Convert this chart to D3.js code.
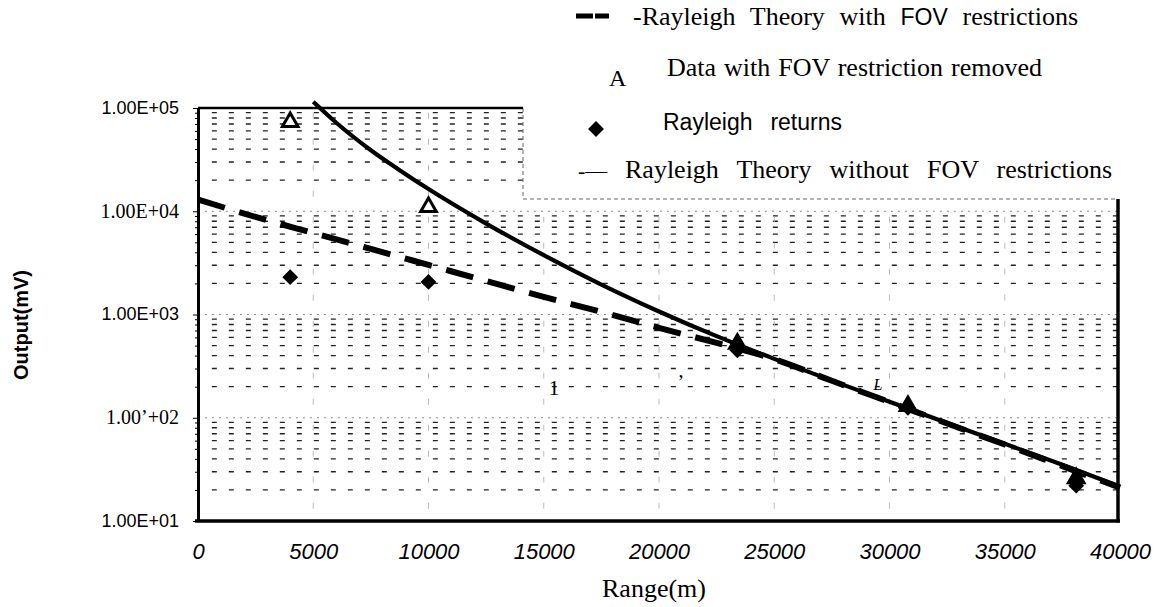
<!DOCTYPE html>
<html>
<head>
<meta charset="utf-8">
<script src="https://cdn.jsdelivr.net/npm/d3@7"></script>
<style>
  body { margin: 0; background: #fff; }
  svg { display: block; }
</style>
</head>
<body>
<svg id="chart" width="1155" height="607"></svg>
<script>
// theory without FOV restrictions (solid)
var theoryRange = [5000, 6000, 7500, 8750, 10000, 12500, 15000, 17500, 20000, 22500, 25000, 27500, 30000, 32500, 35000, 37500, 40000];
var theoryOutput = [115000, 72000, 39000, 25000, 16400, 7600, 3760, 1950, 1070, 617, 372, 229, 143, 89, 56, 35, 21.6];
// theory with FOV restrictions (dashed)
var fovRange = [0, 2500, 5000, 7500, 10000, 12500, 15000, 17500, 20000, 22500, 25000, 27500, 30000, 32500, 35000, 37500, 40000];
var fovOutput = [13000, 8800, 6160, 4320, 3020, 2110, 1480, 1060, 742, 531, 370, 228, 142, 88, 55, 34, 21];
// measured points
var removedRange = [4000, 10000, 23400, 30800, 38100];
var removedOutput = [73000, 11000, 520, 130, 26];
var returnsRange = [4000, 10000, 23400, 30800, 38100];
var returnsOutput = [2300, 2070, 450, 125, 22];

var xTicks = [0, 5000, 10000, 15000, 20000, 25000, 30000, 35000, 40000];
var yTicks = [10, 100, 1000, 10000, 100000];
var yTickLabels = ["1.00E+01", "1.00\u2019+02", "1.00E+03", "1.00E+04", "1.00E+05"];

var SANS = "'Liberation Sans', Arial, sans-serif";
var SERIF = "'Liberation Serif', 'Times New Roman', serif";

var svg = d3.select("#chart");

var x = d3.scaleLinear().domain([0, 40000]).range([198, 1120]);
var y = d3.scaleLog().domain([10, 100000]).range([521, 108]);

// minor values for gridlines
var minors = [];
for (var d = 1; d < 5; d++) {
    for (var k = 2; k < 10; k++) minors.push(k * Math.pow(10, d));
}

var grid = svg.append("g");
grid.selectAll(".minor").data(minors).enter().append("line")
    .attr("x1", x(600)).attr("x2", x(39900))
    .attr("y1", function(v) { return y(v); })
    .attr("y2", function(v) { return y(v); })
    .attr("stroke", "#222").attr("stroke-width", 1.3)
    .attr("stroke-dasharray", "5,12");
grid.selectAll(".major").data([100, 1000, 10000]).enter().append("line")
    .attr("x1", x(300)).attr("x2", x(39900))
    .attr("y1", function(v) { return y(v); })
    .attr("y2", function(v) { return y(v); })
    .attr("stroke", "#888").attr("stroke-width", 1)
    .attr("stroke-dasharray", "2,5");
grid.selectAll(".vert").data(xTicks.slice(1, -1)).enter().append("line")
    .attr("x1", function(v) { return x(v); })
    .attr("x2", function(v) { return x(v); })
    .attr("y1", y(90000)).attr("y2", y(12))
    .attr("stroke", "#bbb").attr("stroke-width", 1)
    .attr("stroke-dasharray", "6,20");

// legend box covers the upper right of the plot
svg.append("rect").attr("x", 523).attr("y", 0).attr("width", 600).attr("height", 199)
    .attr("fill", "#fff");
svg.append("path").attr("d", "M523,108V199H1118")
    .attr("fill", "none").attr("stroke", "#666").attr("stroke-width", 1)
    .attr("stroke-dasharray", "4,3");

// frame
svg.append("line").attr("x1", x(0)).attr("x2", 523).attr("y1", y(100000)).attr("y2", y(100000))
    .attr("stroke", "#000").attr("stroke-width", 2.5);
svg.append("line").attr("x1", 1118).attr("x2", 1118).attr("y1", 199).attr("y2", y(10) + 1.5)
    .attr("stroke", "#000").attr("stroke-width", 3.5);

// y axis
var yAxis = d3.axisLeft(y).tickValues(yTicks).tickSize(5).tickSizeOuter(0).tickPadding(14)
    .tickFormat(function(v, i) { return yTickLabels[i]; });
var gy = svg.append("g").attr("transform", "translate(" + x(0) + ",0)").call(yAxis);
gy.select(".domain").attr("stroke-width", 3);
gy.selectAll(".tick line").attr("stroke-width", 1);
gy.selectAll(".tick text").each(function(v, i) {
    var serif = (i % 2 === 1);
    d3.select(this)
        .style("font-family", serif ? SERIF : SANS)
        .style("font-size", serif ? "20px" : "18px")
        .attr("fill", "#000")
        .attr("dy", "0.3em");
});
var yMinor = d3.axisLeft(y).tickValues(minors).tickSize(3).tickFormat("");
svg.append("g").attr("transform", "translate(" + x(0) + ",0)").call(yMinor)
    .call(function(g) { g.select(".domain").remove(); });

// x axis
var xAxis = d3.axisBottom(x).tickValues(xTicks).tickSize(0).tickSizeOuter(0).tickFormat(d3.format("d"));
var gx = svg.append("g").attr("transform", "translate(0," + y(10) + ")").call(xAxis);
gx.select(".domain").attr("d", "M" + (x(0) - 3) + ",0H" + x(40000)).attr("stroke-width", 3.5);
gx.selectAll(".tick text")
    .style("font-family", SANS).style("font-size", "22px").style("font-style", "italic")
    .attr("fill", "#000").attr("y", 38).attr("dy", 0);

// axis titles
svg.append("text").attr("x", 654).attr("y", 597).attr("text-anchor", "middle")
    .style("font-family", SERIF).style("font-size", "26px").text("Range(m)");
svg.append("text").attr("transform", "translate(28,325) rotate(-90)").attr("text-anchor", "middle")
    .style("font-family", SANS).style("font-weight", "bold").style("font-size", "20px").text("Output(mV)");

// curves
var line = d3.line()
    .x(function(d) { return x(d[0]); })
    .y(function(d) { return y(d[1]); })
    .curve(d3.curveMonotoneX);

svg.append("path").attr("d", line(d3.zip(fovRange, fovOutput)))
    .attr("fill", "none").attr("stroke", "#000").attr("stroke-width", 6)
    .attr("stroke-dasharray", "28,15");
svg.append("path").attr("d", line(d3.zip(theoryRange, theoryOutput)))
    .attr("fill", "none").attr("stroke", "#000").attr("stroke-width", 4.2);

// markers
var diamond = d3.symbol().type(d3.symbolSquare).size(125);
svg.selectAll(".ret").data(d3.zip(returnsRange, returnsOutput)).enter().append("path")
    .attr("d", diamond)
    .attr("transform", function(d) { return "translate(" + x(d[0]) + "," + y(d[1]) + ") rotate(45)"; })
    .attr("fill", "#000");
var tri = d3.symbol().type(d3.symbolTriangle).size(105);
svg.selectAll(".rem").data(d3.zip(removedRange, removedOutput)).enter().append("path")
    .attr("d", tri)
    .attr("transform", function(d) { return "translate(" + x(d[0]) + "," + y(d[1]) + ")"; })
    .attr("fill", function(d) { return d[0] > 20000 ? "#000" : "#fff"; })
    .attr("stroke", "#000").attr("stroke-width", 3).attr("stroke-linejoin", "miter");

// stray scan marks inside the plot
svg.append("text").attr("x", x(15450)).attr("y", y(200) + 8).attr("text-anchor", "middle")
    .style("font-family", SERIF).style("font-size", "22px").text("1");
svg.append("text").attr("x", x(20950)).attr("y", y(200) + 2).attr("text-anchor", "middle")
    .style("font-family", SERIF).style("font-size", "20px").text("\u2019");
svg.append("text").attr("x", x(29500)).attr("y", y(200) + 3).attr("text-anchor", "middle")
    .style("font-family", SERIF).style("font-style", "italic").style("font-size", "16px").text("L");

// legend
function fitWords(sel, width) {
    var n = sel.text().split(" ").length - 1;
    var w = sel.node().getComputedTextLength();
    sel.style("word-spacing", Math.max(0, (width - w) / n) + "px");
}
var lg = svg.append("g");
lg.append("line").attr("x1", 576).attr("x2", 609).attr("y1", 16).attr("y2", 16)
    .attr("stroke", "#000").attr("stroke-width", 5).attr("stroke-dasharray", "17,2");
var t1 = lg.append("text").attr("x", 633).attr("y", 25).style("font-family", SERIF).style("font-size", "26px");
t1.append("tspan").text("-Rayleigh Theory with ");
t1.append("tspan").style("font-family", SANS).style("font-size", "23px").text("FOV");
t1.append("tspan").text(" restrictions");
fitWords(t1, 445);

lg.append("text").attr("x", 609).attr("y", 86).style("font-family", SERIF).style("font-size", "24px").text("A");
var t2 = lg.append("text").attr("x", 667).attr("y", 76).style("font-family", SERIF).style("font-size", "26px")
    .text("Data with FOV restriction removed");
fitWords(t2, 375);

lg.append("path").attr("d", diamond).attr("transform", "translate(596,129) rotate(45)").attr("fill", "#000");
var t3 = lg.append("text").attr("x", 663).attr("y", 130).style("font-family", SANS).style("font-size", "23px")
    .text("Rayleigh returns");
fitWords(t3, 179);

lg.append("text").attr("x", 578).attr("y", 178).style("font-family", SERIF).style("font-size", "22px").text("-\u2014");
var t4 = lg.append("text").attr("x", 625).attr("y", 178).style("font-family", SERIF).style("font-size", "26px")
    .text("Rayleigh Theory without FOV restrictions");
fitWords(t4, 487);
</script>
</body>
</html>
